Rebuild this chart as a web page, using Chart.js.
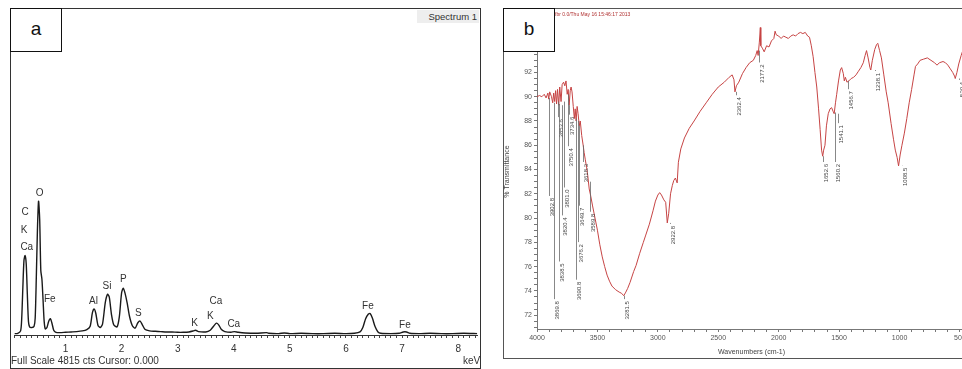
<!DOCTYPE html>
<html><head><meta charset="utf-8">
<script src="https://cdn.jsdelivr.net/npm/chart.js@4.4.0/dist/chart.umd.min.js"></script>
<style>
html,body{margin:0;padding:0;background:#fff;width:962px;height:369px;overflow:hidden;font-family:"Liberation Sans",Arial,sans-serif;}
.frame{position:absolute;border:1px solid #333;box-sizing:border-box;}
#frameA{left:10px;top:8px;width:471px;height:361px;}
#frameB{left:503px;top:8px;width:470px;height:351px;border-color:#555;}
.tag{position:absolute;background:#fff;border:1.5px solid #111;box-sizing:border-box;font-size:19px;color:#111;text-align:center;z-index:5;}
#tagA{left:10px;top:8px;width:52px;height:44px;line-height:40px;}
#tagB{left:503px;top:8px;width:52px;height:44px;line-height:40px;}
canvas{position:absolute;}
#cA{left:10px;top:8px;}
#cB{left:503px;top:8px;}
#spec{position:absolute;left:417px;top:10px;width:62px;height:13px;background:#eeeeee;font-size:9.5px;color:#333;text-align:right;line-height:13px;padding-right:2px;box-sizing:border-box;}
#fs{position:absolute;left:11px;top:355px;font-size:10px;color:#333;}
#kev{position:absolute;left:463px;top:355px;font-size:10px;color:#333;}
#hdr{position:absolute;left:555px;top:11px;font-size:5px;color:#b03030;z-index:6;}
</style>
</head><body>
<div class="frame" id="frameA"></div>
<div class="frame" id="frameB"></div>
<canvas id="cA" width="470" height="349"></canvas>
<canvas id="cB" width="470" height="350"></canvas>
<div class="tag" id="tagA">a</div>
<div class="tag" id="tagB">b</div>
<div id="spec">Spectrum 1</div>
<div id="fs">Full Scale 4815 cts Cursor: 0.000</div>
<div id="kev">keV</div>
<div id="hdr">fbr 0.0/Thu May 16 15:46:17 2013</div>
<script>
// ---------- Panel a: EDS spectrum ----------
const edsEnergy = [0.09,0.15,0.20,0.22,0.24,0.26,0.28,0.30,0.32,0.34,0.36,0.40,0.44,0.46,0.48,0.50,0.52,0.54,0.56,0.58,0.60,0.62,0.64,0.67,0.70,0.73,0.76,0.79,0.83,0.90,1.00,1.10,1.20,1.30,1.38,1.44,1.48,1.51,1.54,1.58,1.62,1.66,1.71,1.75,1.78,1.82,1.86,1.92,1.96,2.00,2.03,2.06,2.10,2.14,2.19,2.24,2.29,2.33,2.37,2.42,2.50,2.60,2.70,2.80,2.90,3.00,3.10,3.20,3.28,3.32,3.37,3.50,3.58,3.64,3.69,3.73,3.78,3.84,3.95,4.01,4.08,4.20,4.40,4.58,4.62,4.80,4.90,5.00,5.20,5.40,5.60,5.80,6.00,6.15,6.25,6.30,6.35,6.40,6.43,6.47,6.52,6.57,6.62,6.80,6.95,7.02,7.08,7.14,7.30,7.50,7.70,7.90,8.10,8.34];
const edsCounts = [20,25,60,250,700,1100,1170,1050,600,200,120,110,130,250,850,1550,1970,1700,950,820,520,200,90,110,200,240,170,70,40,35,40,45,50,60,80,130,330,385,320,140,110,160,480,600,560,300,150,120,270,620,690,620,470,280,140,100,180,205,150,80,60,55,50,45,45,40,40,45,60,70,50,45,70,130,175,150,80,50,40,50,40,30,25,35,25,20,30,20,25,20,20,25,20,25,45,110,240,310,315,250,120,45,25,20,25,45,45,25,20,25,20,20,25,20];
const edsMajorTicks = [1,2,3,4,5,6,7,8];
const edsLabelText = ['O','C','K','Ca','Fe','Al','Si','P','S','K','Ca','K','Ca','Fe','Fe'];
const edsLabelKeV  = [0.54,0.28,0.26,0.31,0.72,1.50,1.74,2.03,2.30,3.30,3.68,3.58,4.00,6.39,7.05];
const edsLabelCts  = [2090,1805,1540,1290,520,490,725,815,325,180,500,280,165,430,150];

// ---------- Panel b: FTIR spectrum ----------
const irWavenumber = [4000,3980,3960,3940,3925,3910,3903,3895,3880,3870,3862,3854,3846,3838,3830,3820,3812,3801,3792,3780,3770,3760,3750,3742,3734,3725,3718,3710,3700,3691,3684,3676,3668,3660,3650,3642,3630,3618,3610,3600,3590,3580,3568,3555,3540,3520,3500,3480,3460,3440,3420,3400,3380,3350,3320,3300,3282,3265,3250,3230,3200,3180,3150,3120,3100,3070,3040,3020,3000,2985,2970,2950,2935,2922,2910,2895,2880,2868,2855,2840,2830,2810,2780,2740,2700,2650,2600,2550,2500,2450,2410,2385,2370,2362,2350,2330,2300,2270,2240,2210,2190,2178,2170,2160,2152,2148,2135,2120,2100,2080,2060,2040,2030,2020,2000,1980,1960,1940,1920,1900,1880,1860,1840,1820,1800,1780,1760,1745,1730,1715,1700,1685,1670,1657,1645,1636,1628,1617,1605,1590,1575,1562,1550,1541,1530,1520,1505,1490,1479,1465,1457,1448,1435,1420,1400,1380,1360,1340,1320,1300,1285,1273,1260,1245,1238,1225,1205,1190,1180,1165,1150,1130,1110,1094,1070,1050,1035,1020,1008,995,980,960,940,920,900,880,868,850,830,800,770,740,710,690,670,640,620,600,580,560,545,539,525,510,490,470];
const irTransmittance = [90.0,90.1,90.0,90.2,89.9,90.3,89.8,90.4,90.0,89.5,90.3,89.6,90.5,89.4,90.6,89.3,90.8,89.6,91.0,91.2,90.9,91.3,90.2,90.6,89.3,90.5,90.8,90.4,89.2,88.2,89.0,88.0,89.2,88.6,87.6,88.0,86.8,86.0,85.4,84.8,84.2,83.5,82.4,81.8,81.0,80.0,79.0,77.8,76.8,76.0,75.3,74.8,74.4,74.1,73.9,73.8,73.6,73.9,74.2,74.7,75.6,76.1,77.1,78.0,78.6,79.5,80.6,81.4,81.9,82.1,81.9,81.5,81.3,79.6,80.4,82.0,82.7,83.1,83.3,82.9,84.6,85.7,86.6,87.4,88.0,88.8,89.5,90.2,90.8,91.2,91.6,91.8,91.4,90.4,90.9,91.2,91.9,92.4,92.8,93.0,93.4,93.8,93.4,94.5,95.7,94.2,94.0,93.7,94.2,94.1,94.6,94.8,95.4,95.1,95.0,94.8,95.0,94.9,94.8,95.0,95.1,95.0,95.2,95.3,95.2,95.3,95.0,94.9,94.2,93.3,92.0,90.8,89.0,87.3,85.6,85.1,85.6,86.0,87.6,88.6,89.0,89.1,88.8,88.6,89.5,90.2,91.3,92.2,92.4,91.9,91.3,91.6,91.2,91.3,91.5,91.6,91.8,92.1,92.4,92.8,93.4,93.8,93.2,92.4,92.2,93.0,93.9,94.3,94.4,93.8,93.2,91.8,90.4,89.5,87.8,86.5,85.6,85.0,84.3,85.2,86.0,87.0,88.2,89.5,90.6,91.8,92.5,92.7,93.0,93.1,93.2,93.0,92.8,92.6,92.8,92.9,92.8,92.6,92.3,92.0,91.7,91.5,92.0,92.7,93.4,94.0];
const irXTicks = [4000,3500,3000,2500,2000,1500,1000,500];
const irYTicks = [72,74,76,78,80,82,84,86,88,90,92,94,96];
const irPeakText  = ['3902.8','3869.8','3853.6','3838.5','3820.4','3801.0','3750.4','3734.6','3690.8','3676.2','3649.7','3618.3','3589.8','3281.5','2922.8','2362.4','2177.2','1652.6','1560.2','1541.1','1456.7','1238.1','1008.5','539.4'];
const irPeakPos   = [3898,3857,3827,3816,3797,3775,3744,3733,3678,3662,3651,3618,3563,3280,2903,2353,2166,1630,1533,1506,1429,1203,983,508];
const irPeakFrom  = [89.9,89.5,89.6,89.4,89.3,89.6,90.2,89.3,88.2,88.0,87.6,86.0,83.0,73.6,79.6,90.4,93.8,85.1,88.7,88.6,91.3,92.2,84.3,91.5];
const irPeakLabelT= [80.9,72.4,87.4,75.5,79.3,81.6,85.0,87.6,74.0,77.1,80.1,83.7,79.6,72.4,78.6,89.2,91.9,83.7,83.7,86.9,89.7,91.2,83.4,90.6];

// ---------- Panel a chart ----------
const edsLabelsPlugin = {
  id:'edsLabels',
  afterDatasetsDraw(chart){
    const c=chart.ctx, xs=chart.scales.x, ys=chart.scales.y;
    c.save();
    c.font='10px "Liberation Sans", Arial, sans-serif';
    c.fillStyle='#333'; c.textAlign='center'; c.textBaseline='middle';
    edsLabelText.forEach((t,i)=>c.fillText(t, xs.getPixelForValue(edsLabelKeV[i]), ys.getPixelForValue(edsLabelCts[i])));
    c.restore();
  }
};
new Chart(document.getElementById('cA'),{
  type:'line',
  data:{datasets:[{data:edsEnergy.map((e,i)=>({x:e,y:edsCounts[i]})),borderColor:'#1a1a1a',borderWidth:1.4,pointRadius:0,tension:0.25,fill:false}]},
  options:{
    responsive:false,animation:false,
    layout:{padding:0},
    plugins:{legend:{display:false},tooltip:{enabled:false}},
    scales:{
      x:{type:'linear',min:0.09,max:8.34,
        afterBuildTicks(s){const t=[];for(let k=1;k<=83;k++)t.push({value:k/10});s.ticks=t;},
        afterFit(s){s.height=22;},
        ticks:{autoSkip:false,maxRotation:0,minRotation:0,padding:5,color:'#333',font:{size:10,family:'"Liberation Sans", Arial'},
          callback(v){const r=Math.round(v);return (Math.abs(v-r)<1e-6 && edsMajorTicks.includes(r))?String(r):'';}},
        grid:{drawOnChartArea:false,drawTicks:true,tickLength:3,color:'#444'},
        border:{display:true,color:'#333',width:1}
      },
      y:{display:false,min:0,max:4815}
    }
  },
  plugins:[edsLabelsPlugin]
});

// ---------- Panel b chart ----------
const irLabelsPlugin = {
  id:'irLabels',
  afterDatasetsDraw(chart){
    const c=chart.ctx, xs=chart.scales.x, ys=chart.scales.y;
    c.save();
    c.font='6px "Liberation Sans", Arial, sans-serif';
    irPeakText.forEach((t,i)=>{
      const x=Math.round(xs.getPixelForValue(irPeakPos[i]))+0.5;
      const yc=ys.getPixelForValue(irPeakLabelT[i]);
      const w=c.measureText(t).width;
      const y0=ys.getPixelForValue(irPeakFrom[i]);
      c.strokeStyle='#6a6a6a'; c.lineWidth=0.8;
      c.beginPath(); c.moveTo(x,y0); c.lineTo(x,yc-w/2-2); c.stroke();
      c.translate(x+2.5,yc); c.rotate(-Math.PI/2);
      c.fillStyle='#444'; c.textAlign='center'; c.textBaseline='middle';
      c.fillText(t,0,0);
      c.setTransform(1,0,0,1,0,0);
    });
    c.restore();
  }
};
new Chart(document.getElementById('cB'),{
  type:'line',
  data:{datasets:[{data:irWavenumber.map((w,i)=>({x:w,y:irTransmittance[i]})),borderColor:'#c64444',borderWidth:1,pointRadius:0,tension:0,fill:false}]},
  options:{
    responsive:false,animation:false,
    layout:{padding:{top:2,right:7,left:0,bottom:0}},
    plugins:{legend:{display:false},tooltip:{enabled:false}},
    scales:{
      x:{type:'linear',reverse:true,min:450,max:4000,
        afterBuildTicks(s){const t=[];for(let v=4000;v>=500;v-=100)t.push({value:v});s.ticks=t;},
        afterFit(s){s.height=29;},
        ticks:{autoSkip:false,maxRotation:0,minRotation:0,padding:2,color:'#555',font:{size:7,family:'"Liberation Sans Narrow","Liberation Sans", Arial'},
          callback(v){return irXTicks.includes(v)?String(v):'';}},
        grid:{drawOnChartArea:false,drawTicks:true,tickLength:3,color:'#777'},
        border:{display:true,color:'#777',width:1},
        title:{display:true,text:'Wavenumbers (cm-1)',color:'#444',font:{size:7,family:'"Liberation Sans", Arial'},padding:{top:0,bottom:2}}
      },
      y:{min:70.86,max:96.8,
        afterBuildTicks(s){const t=[];for(let v=71;v<=96.5;v+=0.5)t.push({value:v});s.ticks=t;},
        afterFit(s){s.width=34;},
        ticks:{autoSkip:false,padding:2,color:'#555',font:{size:7,family:'"Liberation Sans Narrow","Liberation Sans", Arial'},
          callback(v){return irYTicks.includes(v)?String(v):'';}},
        grid:{drawOnChartArea:false,drawTicks:true,tickLength:3,color:'#777'},
        border:{display:true,color:'#777',width:1},
        title:{display:true,text:'% Transmittance',color:'#444',font:{size:7,family:'"Liberation Sans", Arial'},padding:0}
      }
    }
  },
  plugins:[irLabelsPlugin]
});
</script>
</body></html>
